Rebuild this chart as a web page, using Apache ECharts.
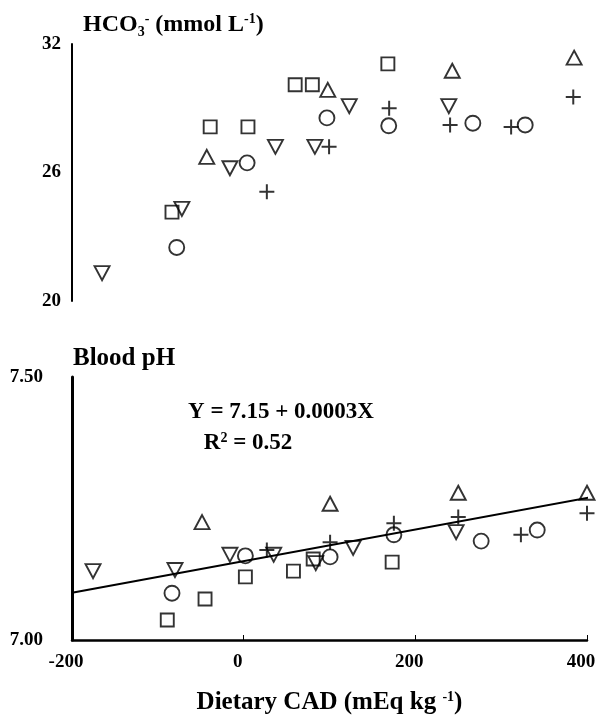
<!DOCTYPE html>
<html>
<head>
<meta charset="utf-8">
<script src="https://cdn.jsdelivr.net/npm/echarts@6/dist/echarts.min.js"></script>
<style>
html,body{margin:0;padding:0;background:#fff;}
#c{width:598px;height:717px;}
</style>
</head>
<body>
<div id="c"></div>
<script>
// ---- data (Dietary CAD, mEq/kg ; value) ----
const xTicks = [-200, 0, 200, 400];
const hcoTicks = [20, 26, 32];
const phTicks = [7.00, 7.50];

// HCO3- (mmol/L)
const hcoCircle = [[-78,22.5],[4,26.45],[97,28.55],[169,28.18],[267,28.3],[328,28.22]];
const hcoSquare = [[-83.5,24.15],[-39,28.13],[5,28.13],[60,30.1],[80,30.1],[168,31.07]];
const hcoTriUp = [[-43,26.73],[98,29.86],[243,30.75],[385,31.36]];
const hcoTriDown = [[-165,21.3],[-72,24.3],[-16,26.2],[37,27.2],[83,27.2],[123,29.1],[239,29.1]];
const hcoPlus = [[27,25.1],[99.5,27.2],[169.5,29.0],[240.5,28.22],[311.6,28.13],[384,29.53]];

// Blood pH
const phCircle = [[-83.5,7.089],[2,7.160],[100.7,7.158],[175,7.2],[276.7,7.188],[342,7.209]];
const phSquare = [[-89,7.038],[-45,7.078],[2,7.12],[58,7.131],[81,7.154],[173,7.148]];
const phTriUp = [[-48.5,7.224],[100.7,7.259],[250,7.28],[400,7.28]];
const phTriDown = [[-175.5,7.131],[-80,7.133],[-16,7.162],[35,7.162],[84,7.146],[127.5,7.175],[247.5,7.205]];
const phPlus = [[27,7.171],[100.7,7.186],[175,7.222],[250,7.234],[323,7.2],[400,7.241]];

// regression Y = 7.15 + 0.0003X, endpoints
const phRegLine = [[-200,7.09],[410,7.273]];

// ---- chart ----
const FONT = '"Liberation Serif","Times New Roman",serif';
const INK = '#000';
const chart = echarts.init(document.getElementById('c'), null, {renderer:'canvas'});

const markerStyle = {color:'transparent', borderColor:INK, borderWidth:1.9};
const PLUS = 'path://M0,6L12,6M6,0L6,12';

function sc(data, gi, symbol, size, rotate){
  return {
    type:'scatter', xAxisIndex:gi, yAxisIndex:gi, data:data,
    symbol:symbol, symbolSize:size, symbolRotate:rotate||0,
    itemStyle:Object.assign({}, markerStyle, symbol===PLUS?{borderWidth:2}:{}),
    silent:true, emphasis:{disabled:true}, z:3
  };
}

const tickLabel = {color:INK, fontFamily:FONT, fontWeight:'bold', fontSize:19};

chart.setOption({
  animation:false,
  backgroundColor:'#fff',
  grid:[
    {left:72, right:11, top:44, height:257, outerBoundsMode:'none', containLabel:false},
    {left:72, right:11, top:377, height:263, outerBoundsMode:'none', containLabel:false}
  ],
  xAxis:[
    {gridIndex:0, type:'value', min:xTicks[0], max:xTicks[xTicks.length-1], interval:200, show:false},
    {gridIndex:1, type:'value', min:xTicks[0], max:xTicks[xTicks.length-1], interval:200,
     axisLine:{show:true, onZero:false, lineStyle:{color:INK, width:2.5}},
     axisTick:{show:true, inside:true, length:5, lineStyle:{color:INK, width:1}},
     splitLine:{show:false},
     axisLabel:Object.assign({margin:13, padding:[0,12,0,0]}, tickLabel),
     name:'Dietary CAD (mEq kg {sup|-1})',
     nameLocation:'middle', nameGap:50,
     nameTextStyle:{color:INK, fontFamily:FONT, fontWeight:'bold', fontSize:25,
       rich:{sup:{fontFamily:FONT, fontWeight:'bold', fontSize:14, verticalAlign:'top', padding:[0,0,12,0], color:INK}}}
    }
  ],
  yAxis:[
    {gridIndex:0, type:'value', min:hcoTicks[0], max:hcoTicks[hcoTicks.length-1], interval:6,
     axisLine:{show:true, onZero:false, lineStyle:{color:INK, width:2}},
     axisTick:{show:false}, splitLine:{show:false},
     axisLabel:Object.assign({margin:11}, tickLabel)},
    {gridIndex:1, type:'value', min:phTicks[0], max:phTicks[1], interval:0.5,
     axisLine:{show:true, onZero:false, lineStyle:{color:INK, width:3}},
     axisTick:{show:false}, splitLine:{show:false},
     axisLabel:Object.assign({margin:29, formatter:v=>v.toFixed(2)}, tickLabel)}
  ],
  graphic:[
    {type:'text', left:83, top:12, silent:true,
     style:{text:'HCO{sub|3}{sup|-} (mmol L{sup|-1})', fill:INK, font:'bold 24px '+FONT,
       rich:{
         sub:{fontFamily:FONT, fontWeight:'bold', fontSize:14, fill:INK, padding:[14,0,0,0]},
         sup:{fontFamily:FONT, fontWeight:'bold', fontSize:14, fill:INK, padding:[0,0,12,0]}
       }}},
    {type:'text', left:73, top:346, silent:true,
     style:{text:'Blood pH', fill:INK, font:'bold 25px '+FONT}},
    {type:'text', x:281, y:412, silent:true,
     style:{text:'Y = 7.15 + 0.0003X', fill:INK, font:'bold 23px '+FONT, align:'center', verticalAlign:'middle'}},
    {type:'text', x:248, y:443, silent:true,
     style:{text:'R{sup|2} = 0.52', fill:INK, font:'bold 23px '+FONT, align:'center', verticalAlign:'middle',
       rich:{sup:{fontFamily:FONT, fontWeight:'bold', fontSize:14, fill:INK, padding:[0,0,10,0]}}}}
  ],
  series:[
    sc(hcoCircle,0,'circle',15),
    sc(hcoSquare,0,'rect',13),
    sc(hcoTriUp,0,'triangle',[15,14]),
    sc(hcoTriDown,0,'triangle',[15,14],180),
    sc(hcoPlus,0,PLUS,15),
    {type:'line', xAxisIndex:1, yAxisIndex:1, data:phRegLine, symbol:'none', silent:true,
     lineStyle:{color:INK, width:2}, z:2, clip:false},
    sc(phCircle,1,'circle',15),
    sc(phSquare,1,'rect',13),
    sc(phTriUp,1,'triangle',[15,14]),
    sc(phTriDown,1,'triangle',[15,14],180),
    sc(phPlus,1,PLUS,15)
  ]
});
</script>
</body>
</html>
